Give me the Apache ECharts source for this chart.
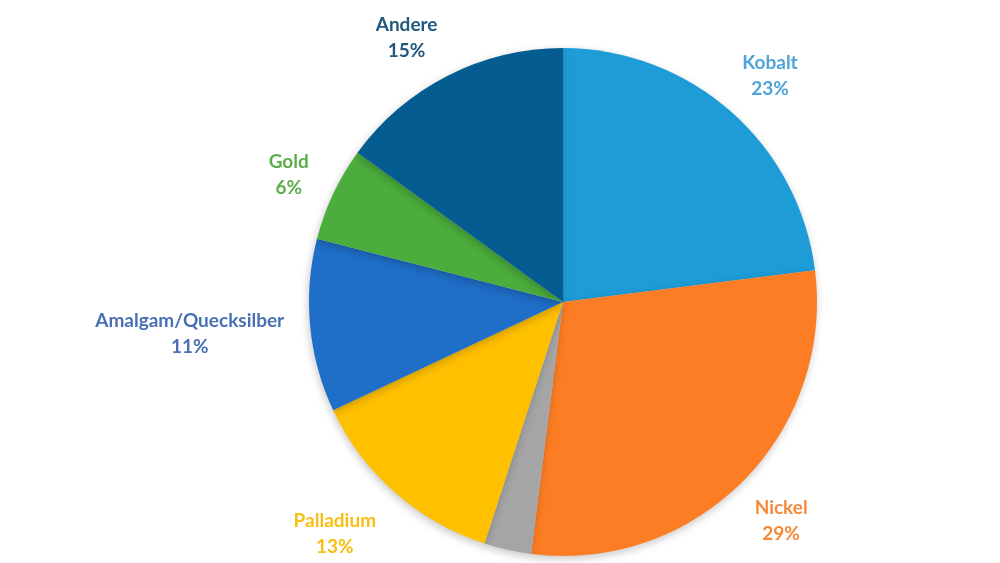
<!DOCTYPE html>
<html>
<head>
<meta charset="utf-8">
<script src="https://cdn.jsdelivr.net/npm/echarts@6/dist/echarts.min.js"></script>
<style>html,body{margin:0;padding:0;background:#fff}#c{width:1000px;height:563px}</style>
</head>
<body>
<div id="c"></div>
<script>
const categories = ['Kobalt', 'Nickel', 'Sonstige', 'Palladium', 'Amalgam/Quecksilber', 'Gold', 'Andere'];
const values = [23, 29, 3, 13, 11, 6, 15];
const showLabel = [true, true, false, true, true, true, true];
const sliceColors = ['#1E9CD8', '#FD7D24', '#A5A5A5', '#FFC000', '#1F6FC8', '#4BAE3C', '#045C91'];
const labelColors = ['#4FA3D8', '#F5893A', '#A5A5A5', '#F7BE14', '#4A70B4', '#5DAE49', '#21587F'];

const CX = 563, CY = 302, R = 254, GAP = 17, LABEL_SHIFT_Y = 3, LEFT_EXTRA = 9;
const total = values.reduce((a, b) => a + b, 0);

const chart = echarts.init(document.getElementById('c'));
chart.setOption({
  animation: false,
  backgroundColor: '#fff',
  series: [{
    type: 'pie',
    center: [CX, CY],
    radius: R,
    startAngle: 90,
    clockwise: true,
    data: categories.map((n, i) => ({
      name: n, value: values[i],
      itemStyle: { color: sliceColors[i] },
      label: { show: showLabel[i], color: labelColors[i] }
    })),
    itemStyle: {
      borderWidth: 0,
      shadowBlur: 8, shadowColor: 'rgba(0,0,0,0.22)', shadowOffsetX: -1, shadowOffsetY: 3
    },
    label: {
      position: 'outside',
      formatter: p => p.name + '\n' + Math.round(p.value / total * 100) + '%',
      fontFamily: 'Lato, "Open Sans", sans-serif',
      fontWeight: 'bold',
      fontSize: 19,
      lineHeight: 26,
      align: 'center'
    },
    labelLine: { show: false },
    labelLayout: function (p) {
      const i = p.dataIndex;
      let before = 0;
      for (let k = 0; k < i; k++) before += values[k];
      const mid = (before + values[i] / 2) / total * 2 * Math.PI;
      const dx = Math.sin(mid), dy = -Math.cos(mid);
      const hw = p.labelRect.width / 2, hh = p.labelRect.height / 2;
      const ax = CX + (R + GAP) * dx + (dx < 0 ? -LEFT_EXTRA * Math.min(1, -dx * 1.3) : 0);
      const ay = CY + (R + GAP) * dy;
      const ox = hw * Math.sign(dx) * Math.min(1, Math.abs(dx) * 2);
      const oy = hh * Math.sign(dy) * Math.min(1, Math.abs(dy) * 1.3);
      return { x: ax + ox, y: ay + oy + LABEL_SHIFT_Y, align: 'center', verticalAlign: 'middle' };
    }
  }]
});
</script>
</body>
</html>
